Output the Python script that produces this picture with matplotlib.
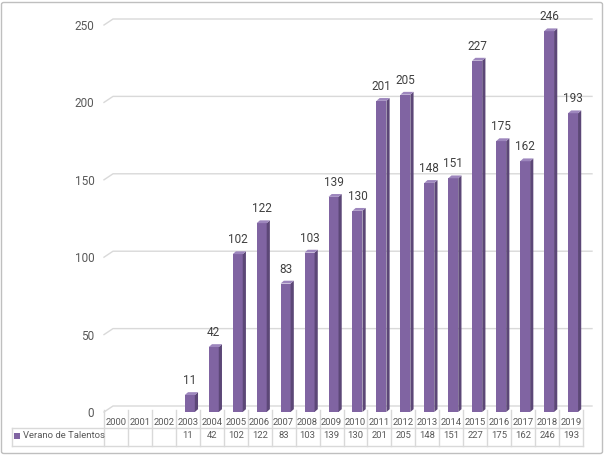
import matplotlib
matplotlib.use("Agg")
import matplotlib.pyplot as plt
from matplotlib.patches import Polygon, FancyBboxPatch, Rectangle
from matplotlib.lines import Line2D

years = [str(y) for y in range(2000, 2020)]
values = [None, None, None, 11, 42, 102, 122, 83, 103, 139, 130, 201, 205,
          148, 151, 227, 175, 162, 246, 193]
series_name = "Verano de Talentos"
yticks = [0, 50, 100, 150, 200, 250]

FRONT = "#8064A2"
SIDE = "#5C4777"
TOP = "#9D86BD"
GRID = "#D9D9D9"
TXT = "#404040"
TICK = "#595959"
FONT = "Roboto"

W, H, DPI = 605, 455, 100
fig = plt.figure(figsize=(W / DPI, H / DPI), dpi=DPI)

# pixel geometry
ax_l, ax_r = 104, 583
y0_px, ytop_px = 412, 25
ax = fig.add_axes([ax_l / W, (H - y0_px) / H, (ax_r - ax_l) / W, (y0_px - ytop_px) / H])
ax.set_xlim(-0.5, len(years) - 0.5)
ax.set_ylim(0, 250)
for s in ax.spines.values():
    s.set_visible(False)
ax.set_xticks([])
ax.set_yticks(yticks)
ax.tick_params(axis="y", length=0, pad=7, labelsize=8.5, labelcolor=TICK)
for lab in ax.get_yticklabels():
    lab.set_fontfamily(FONT)
ax.patch.set_alpha(0)

pxx = (ax_r - ax_l) / len(years)          # pixels per x unit
pxy = (y0_px - ytop_px) / 250.0           # pixels per y unit

# back-wall gridlines with oblique depth
ddx, ddy = 9 / pxx, 6 / pxy
for v in yticks:
    xs = [-0.5, -0.5 + ddx, len(years) - 0.5 + ddx]
    ys = [v, v + ddy, v + ddy]
    ax.add_line(Line2D(xs, ys, color=GRID, lw=1, clip_on=False, zorder=1))

# 3D bars
bw = 10 / pxx
shift = 2 / pxx
sdx, sdy = 3.2 / pxx, 2.8 / pxy
for i, v in enumerate(values):
    if v is None:
        continue
    xc = i + shift
    xl, xr = xc - bw / 2, xc + bw / 2
    ax.bar(xc, v, width=bw, color=FRONT, zorder=3, linewidth=0)
    ax.add_patch(Polygon([(xr, 0), (xr + sdx, sdy), (xr + sdx, v + sdy), (xr, v)],
                         closed=True, facecolor=SIDE, lw=0, zorder=3))
    ax.add_patch(Polygon([(xl, v), (xr, v), (xr + sdx, v + sdy), (xl + sdx, v + sdy)],
                         closed=True, facecolor=TOP, lw=0, zorder=3))
    ax.annotate(str(v), (xc, v), xytext=(0, 8), textcoords="offset pixels",
                ha="center", va="bottom", fontsize=8.5, color=TXT, family=FONT)

# data table
def fy(ypx):
    return (y0_px - ypx) / (y0_px - ytop_px) * 250.0

tbl_top, tbl_mid, tbl_bot = 410, 428, 446
leg_left = -0.5 - (ax_l - 12) / pxx
n = len(years)
for k in range(n + 1):
    x = k - 0.5
    ax.add_line(Line2D([x, x], [fy(tbl_top), fy(tbl_bot)], color=GRID, lw=1, clip_on=False))
ax.add_line(Line2D([leg_left, leg_left], [fy(tbl_mid), fy(tbl_bot)], color=GRID, lw=1, clip_on=False))
for yy in (tbl_mid, tbl_bot):
    ax.add_line(Line2D([leg_left, n - 0.5], [fy(yy), fy(yy)], color=GRID, lw=1, clip_on=False))

for i, yr in enumerate(years):
    ax.text(i, fy(422.5), yr, ha="center", va="center", fontsize=6.8,
            color=TICK, family=FONT, clip_on=False)
    if values[i] is not None:
        ax.text(i, fy(436), str(values[i]), ha="center", va="center", fontsize=6.8,
                color=TICK, family=FONT, clip_on=False)

# legend key in table
ax.add_patch(Rectangle((leg_left + 1.5 / pxx, fy(439)), 6.5 / pxx, 6.5 / pxy,
                       facecolor=FRONT, lw=0, clip_on=False))
ax.text(leg_left + 11 / pxx, fy(436), series_name, ha="left", va="center",
        fontsize=6.8, color=TICK, family=FONT, clip_on=False)

# outer chart border
fig.add_artist(FancyBboxPatch((1.5 / W, 1.5 / H), (W - 4) / W, (H - 4) / H,
                              boxstyle="round,pad=0,rounding_size=0.004",
                              transform=fig.transFigure, facecolor="none",
                              edgecolor="#BFBFBF", lw=1))

fig.savefig("out.png", dpi=DPI)
